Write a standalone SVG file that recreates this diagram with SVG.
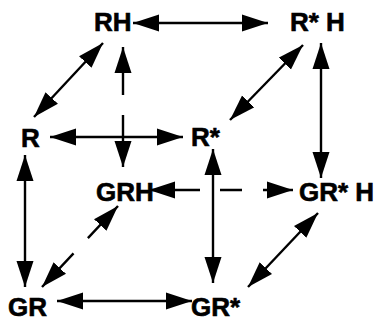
<svg xmlns="http://www.w3.org/2000/svg" width="377" height="321" viewBox="0 0 377 321">
<style>
text{font-family:"Liberation Sans",Arial,sans-serif;font-weight:bold;font-size:26px;fill:#000;stroke:#000;stroke-width:0.6}
.c line{stroke:#000;stroke-width:2.4;fill:none;marker-start:url(#a);marker-end:url(#a)}
</style>
<defs>
<marker id="a" markerUnits="userSpaceOnUse" markerWidth="26" markerHeight="18" refX="26" refY="9" orient="auto-start-reverse" viewBox="0 0 26 18">
<path d="M0,0.5 L26,9 L0,17.5 z" fill="#000"/>
</marker>
</defs>
<rect width="377" height="321" fill="#fff"/>
<g class="c" id="connectors">
<line x1="133" y1="23" x2="268" y2="23"/>
<line x1="103" y1="43" x2="34" y2="117"/>
<line x1="303" y1="45" x2="230" y2="120"/>
<line x1="321" y1="43" x2="321" y2="178"/>
<line x1="123" y1="47" x2="123" y2="167" stroke-dasharray="48 20 60"/>
<line x1="50" y1="137" x2="183" y2="137"/>
<line x1="25" y1="155" x2="25" y2="287"/>
<line x1="213" y1="149" x2="213" y2="283"/>
<line x1="149" y1="190" x2="293" y2="190" stroke-dasharray="51 20 22 21 50"/>
<line x1="118" y1="206" x2="42" y2="287" stroke-dasharray="44 21 60"/>
<line x1="57" y1="301" x2="192" y2="301"/>
<line x1="318" y1="213" x2="248" y2="287"/>
</g>
<g id="RH"><text x="94" y="31">RH</text></g>
<g id="RstarH"><text x="290" y="31">R* H</text></g>
<g id="R"><text x="21" y="147">R</text></g>
<g id="Rstar"><text x="191" y="146">R*</text></g>
<g id="GRH"><text x="96" y="201">GRH</text></g>
<g id="GRstarH"><text x="299" y="201">GR* H</text></g>
<g id="GR"><text x="8" y="316">GR</text></g>
<g id="GRstar"><text x="191" y="316">GR*</text></g>
</svg>
